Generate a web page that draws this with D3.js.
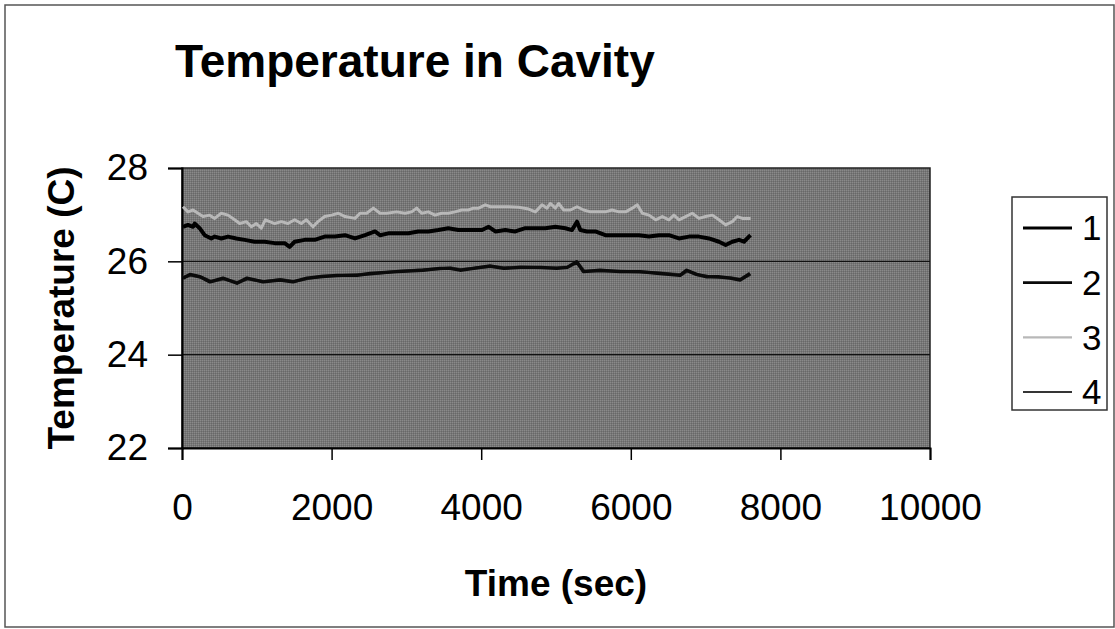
<!DOCTYPE html>
<html>
<head>
<meta charset="utf-8">
<script src="https://cdn.jsdelivr.net/npm/d3@7"></script>
<style>
  body { margin: 0; background: #fff; }
  svg { display: block; font-family: "Liberation Sans", Arial, sans-serif; }
</style>
</head>
<body>
<svg id="chart"></svg>
<script>
// readings taken off the plot: [time (sec), temperature (C)]
const series1 = [[13,26.74],[80,26.78],[147,26.74],[169,26.81],[236,26.71],[303,26.56],[392,26.49],[437,26.53],[526,26.49],[615,26.53],[726,26.49],[838,26.46],[971,26.42],[1105,26.42],[1239,26.39],[1372,26.39],[1439,26.31],[1506,26.42],[1640,26.46],[1774,26.46],[1907,26.53],[2045,26.53],[2179,26.56],[2313,26.49],[2447,26.56],[2580,26.64],[2647,26.56],[2759,26.60],[2892,26.60],[3026,26.60],[3159,26.64],[3293,26.64],[3427,26.67],[3560,26.71],[3694,26.67],[3828,26.67],[4011,26.67],[4100,26.74],[4189,26.64],[4323,26.67],[4456,26.64],[4590,26.71],[4724,26.71],[4858,26.71],[4991,26.74],[5125,26.71],[5214,26.67],[5281,26.85],[5325,26.67],[5414,26.64],[5526,26.64],[5660,26.56],[5793,26.56],[5976,26.56],[6110,26.56],[6243,26.53],[6377,26.56],[6510,26.56],[6644,26.49],[6778,26.53],[6911,26.53],[7045,26.49],[7179,26.42],[7268,26.35],[7357,26.42],[7447,26.46],[7513,26.42],[7580,26.53],[7602,26.56]];

const series2 = [[13,25.64],[107,25.72],[241,25.67],[374,25.56],[548,25.64],[735,25.53],[869,25.64],[1083,25.56],[1310,25.60],[1484,25.56],[1671,25.64],[1845,25.67],[2072,25.70],[2340,25.70],[2513,25.74],[2874,25.78],[3222,25.81],[3449,25.85],[3583,25.85],[3717,25.81],[3900,25.85],[4118,25.90],[4300,25.85],[4519,25.87],[4800,25.87],[5009,25.85],[5150,25.87],[5277,25.99],[5366,25.78],[5588,25.81],[5856,25.78],[6120,25.78],[6390,25.74],[6658,25.70],[6747,25.81],[6880,25.72],[7015,25.67],[7170,25.67],[7326,25.64],[7460,25.60],[7594,25.74]];

const series3 = [[13,27.17],[80,27.06],[147,27.10],[214,27.03],[281,26.96],[370,26.99],[437,26.92],[524,27.03],[615,26.99],[704,26.89],[771,26.81],[860,26.85],[927,26.74],[994,26.81],[1060,26.71],[1114,26.89],[1172,26.85],[1239,26.81],[1328,26.85],[1417,26.81],[1506,26.89],[1595,26.81],[1662,26.89],[1751,26.74],[1818,26.85],[1907,26.96],[2001,26.99],[2090,27.03],[2179,26.96],[2313,26.92],[2380,27.03],[2469,27.03],[2558,27.14],[2647,27.03],[2736,27.03],[2870,27.06],[2981,27.03],[3070,27.06],[3137,27.14],[3204,27.03],[3293,27.06],[3382,26.99],[3471,27.03],[3560,27.03],[3650,27.06],[3739,27.10],[3828,27.10],[3895,27.14],[3966,27.14],[4055,27.21],[4122,27.17],[4234,27.17],[4367,27.17],[4501,27.16],[4635,27.12],[4724,27.06],[4813,27.21],[4880,27.14],[4924,27.24],[4991,27.14],[5036,27.24],[5103,27.10],[5192,27.10],[5281,27.17],[5370,27.10],[5459,27.06],[5571,27.06],[5660,27.06],[5749,27.10],[5842,27.06],[5931,27.06],[6020,27.14],[6087,27.21],[6154,27.03],[6243,26.99],[6332,26.89],[6421,26.96],[6510,26.89],[6577,26.99],[6644,26.89],[6733,26.96],[6822,27.03],[6911,26.92],[7000,26.96],[7090,26.99],[7179,26.89],[7268,26.78],[7357,26.85],[7424,26.96],[7491,26.92],[7602,26.92]];

const series4 = [[13,25.66],[120,25.70],[260,25.66],[390,25.57],[560,25.62],[740,25.55],[880,25.62],[1100,25.57],[1320,25.61],[1500,25.57],[1690,25.63],[1860,25.68],[2090,25.69],[2360,25.72],[2530,25.73],[2890,25.79],[3240,25.82],[3460,25.84],[3600,25.86],[3730,25.82],[3920,25.86],[4130,25.89],[4320,25.86],[4530,25.88],[4810,25.86],[5020,25.86],[5160,25.88],[5285,25.97],[5380,25.79],[5600,25.80],[5870,25.79],[6130,25.77],[6400,25.75],[6670,25.71],[6755,25.79],[6890,25.71],[7030,25.68],[7180,25.66],[7340,25.65],[7470,25.61],[7600,25.72]];

const seriesNames = ["1", "2", "3", "4"];
const xTicks = [0, 2000, 4000, 6000, 8000, 10000];
const yTicks = [22, 24, 26, 28];

const width = 1115;
const height = 629;
const margin = ({top: 168, right: 185, bottom: 181, left: 182});

const colors = ["#000000", "#0a0a0a", "#b8b8b8", "#353535"];
const strokeWidths = [4, 3.4, 3, 3];

const svg = d3.select("#chart")
    .attr("width", width)
    .attr("height", height)
    .attr("viewBox", [0, 0, width, height]);

// halftone-like texture for the plot area
const defs = svg.append("defs");
const pat = defs.append("pattern")
    .attr("id", "dither")
    .attr("width", 2)
    .attr("height", 2)
    .attr("patternUnits", "userSpaceOnUse");
pat.append("rect").attr("width", 2).attr("height", 2).attr("fill", "#777");
pat.append("rect").attr("width", 1).attr("height", 1).attr("fill", "#8a8a8a");
pat.append("rect").attr("x", 1).attr("y", 1).attr("width", 1).attr("height", 1).attr("fill", "#686868");

// outer frame
svg.append("rect")
    .attr("x", 5).attr("y", 5)
    .attr("width", 1109).attr("height", 622)
    .attr("fill", "none")
    .attr("stroke", "#555")
    .attr("stroke-width", 1.5);

const x = d3.scaleLinear()
    .domain([0, 10000])
    .range([margin.left, width - margin.right]);

const y = d3.scaleLinear()
    .domain([22, 28])
    .range([height - margin.bottom, margin.top]);

// plot area
svg.append("rect")
    .attr("x", x(0))
    .attr("y", y(28))
    .attr("width", x(10000) - x(0))
    .attr("height", y(22) - y(28))
    .attr("fill", "url(#dither)")
    .attr("stroke", "#222")
    .attr("stroke-width", 1.5);

// gridlines
svg.append("g")
    .selectAll("line")
    .data(yTicks.filter(d => d > 22 && d < 28))
    .join("line")
    .attr("x1", x(0))
    .attr("x2", x(10000))
    .attr("y1", d => y(d))
    .attr("y2", d => y(d))
    .attr("stroke", "#111")
    .attr("stroke-width", 1.2);

const xAxis = g => g
    .attr("transform", `translate(0,${y(22)})`)
    .call(d3.axisBottom(x).tickValues(xTicks).tickFormat(d3.format("d")).tickSize(12).tickPadding(34))
    .call(g => g.select(".domain").attr("stroke", "#000").attr("stroke-width", 2))
    .call(g => g.selectAll(".tick line").attr("stroke", "#000").attr("stroke-width", 1.5))
    .call(g => g.selectAll(".tick text")
        .attr("fill", "#000")
        .style("font-size", "37px")
        .style("font-family", "'Liberation Sans', Arial, sans-serif"));

const yAxis = g => g
    .attr("transform", `translate(${x(0)},0)`)
    .call(d3.axisLeft(y).tickValues(yTicks).tickFormat(d3.format("d")).tickSize(14).tickPadding(20))
    .call(g => g.select(".domain").attr("stroke", "#000").attr("stroke-width", 2))
    .call(g => g.selectAll(".tick line").attr("stroke", "#000").attr("stroke-width", 1.5))
    .call(g => g.selectAll(".tick text")
        .attr("fill", "#000")
        .style("font-size", "37px")
        .style("font-family", "'Liberation Sans', Arial, sans-serif"));

svg.append("g").call(xAxis);
svg.append("g").call(yAxis);

// series lines
const line = d3.line()
    .x(d => x(d[0]))
    .y(d => y(d[1]))
    .curve(d3.curveLinear);

const allSeries = [series1, series2, series3, series4];
const drawOrder = [3, 1, 2, 0];

svg.append("g")
    .selectAll("path")
    .data(drawOrder)
    .join("path")
    .attr("d", i => line(allSeries[i]))
    .attr("fill", "none")
    .attr("stroke", i => colors[i])
    .attr("stroke-width", i => strokeWidths[i])
    .attr("stroke-linejoin", "round");

// titles
svg.append("text")
    .attr("x", 175)
    .attr("y", 77)
    .attr("font-size", 46)
    .attr("font-weight", "bold")
    .text("Temperature in Cavity");

svg.append("text")
    .attr("x", (x(0) + x(10000)) / 2)
    .attr("y", 596)
    .attr("text-anchor", "middle")
    .attr("font-size", 37)
    .attr("font-weight", "bold")
    .text("Time (sec)");

svg.append("text")
    .attr("transform", `translate(74,${(y(22) + y(28)) / 2}) rotate(-90)`)
    .attr("text-anchor", "middle")
    .attr("font-size", 37)
    .attr("font-weight", "bold")
    .text("Temperature (C)");

// legend
const legend = svg.append("g");
legend.append("rect")
    .attr("x", 1012).attr("y", 197)
    .attr("width", 95).attr("height", 213)
    .attr("fill", "#fff")
    .attr("stroke", "#333")
    .attr("stroke-width", 1.5);

const legendY = d3.scalePoint()
    .domain(seriesNames)
    .range([228, 392]);

const item = legend.selectAll("g")
    .data(seriesNames)
    .join("g")
    .attr("transform", d => `translate(0,${legendY(d)})`);

item.append("line")
    .attr("x1", 1023).attr("x2", 1072)
    .attr("stroke", (d, i) => colors[i])
    .attr("stroke-width", (d, i) => strokeWidths[i] - 0.8);

item.append("text")
    .attr("x", 1082)
    .attr("dy", "0.35em")
    .attr("font-size", 35)
    .text(d => d);
</script>
</body>
</html>
